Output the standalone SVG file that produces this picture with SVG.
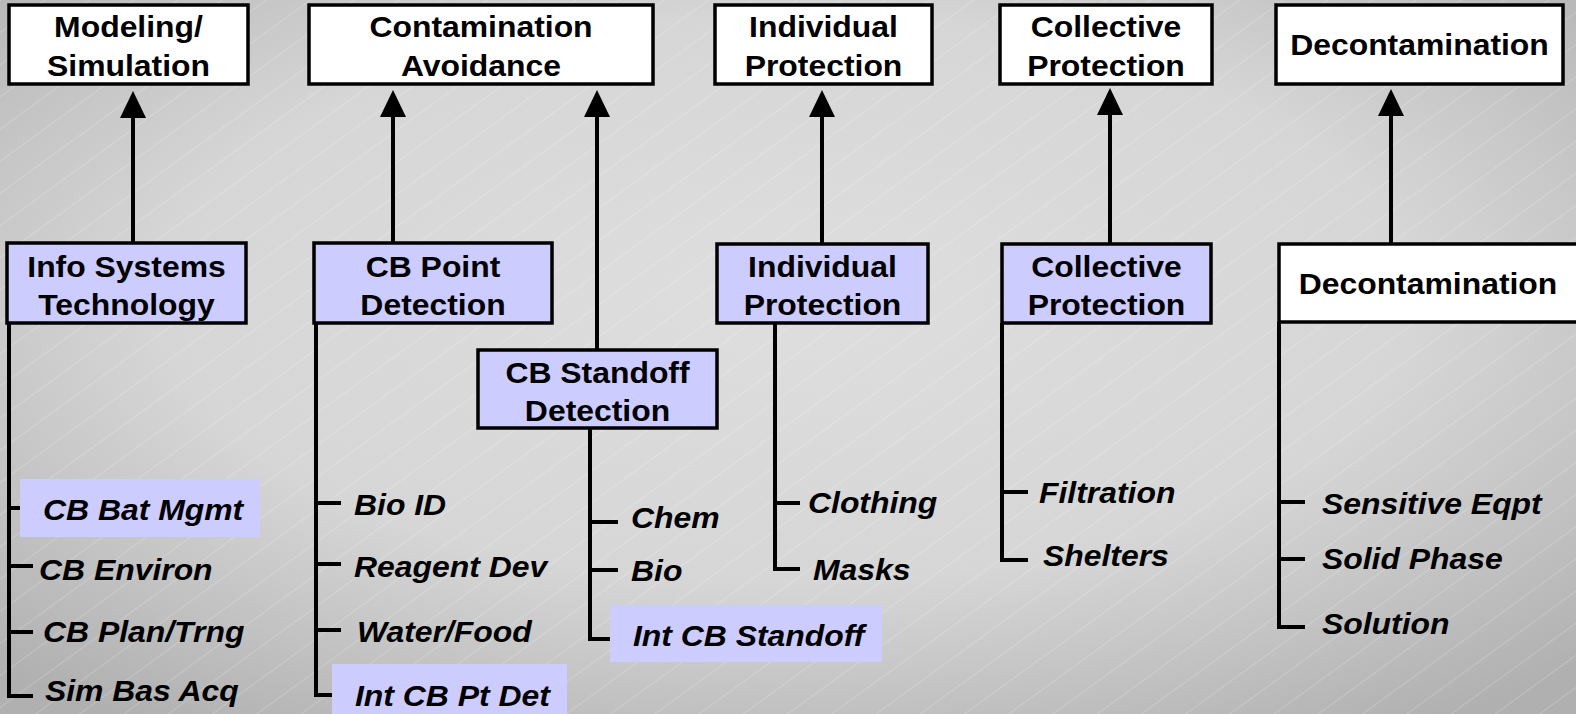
<svg xmlns="http://www.w3.org/2000/svg" width="1576" height="714" viewBox="0 0 1576 714">
<style>
.box{fill:#ffffff;stroke:#000;stroke-width:3.5}
.hbox{fill:#ccccff;stroke:#000;stroke-width:3.5}
.hl{fill:#ccccff;stroke:none}
.h{font-family:"Liberation Sans",Arial,sans-serif;font-weight:bold;font-size:29px;fill:#000;text-anchor:middle}
.l{font-family:"Liberation Sans",Arial,sans-serif;font-weight:bold;font-style:italic;font-size:29px;fill:#000}
.ln{fill:none;stroke:#000;stroke-width:4;stroke-linejoin:miter;stroke-linecap:butt}
.ar{fill:none;stroke:#000;stroke-width:4;marker-end:url(#ah)}
</style>
<defs>
<radialGradient id="bg" cx="50%" cy="42%" r="72%">
<stop offset="0" stop-color="#dedede"/>
<stop offset="0.55" stop-color="#d6d6d6"/>
<stop offset="1" stop-color="#b0b0b0"/>
</radialGradient>
<pattern id="stripes" patternUnits="userSpaceOnUse" width="400" height="26" patternTransform="rotate(-36)">
<line x1="0" y1="0.5" x2="400" y2="0.5" stroke="#ffffff" stroke-opacity="0.2" stroke-width="1"/>
</pattern>
<marker id="ah" markerUnits="userSpaceOnUse" viewBox="0 0 27 26" refX="17" refY="13" markerWidth="27" markerHeight="26" orient="auto">
<path d="M0,0 L27,13 L0,26 Z" fill="#000"/>
</marker>
</defs>
<rect x="0" y="0" width="1576" height="714" fill="url(#bg)"/>
<rect x="0" y="0" width="1576" height="714" fill="url(#stripes)"/>

<g id="connectors">
<line class="ar" x1="133" y1="243" x2="133" y2="101"/>
<line class="ar" x1="393" y1="243" x2="393" y2="100"/>
<line class="ar" x1="597" y1="350" x2="597" y2="100"/>
<line class="ar" x1="822" y1="244" x2="822" y2="100"/>
<line class="ar" x1="1110" y1="244" x2="1110" y2="98"/>
<line class="ar" x1="1391" y1="244" x2="1391" y2="99"/>
<path class="ln" d="M9,323 V696 H33 M9,508 H22 M9,566 H33 M9,632 H33"/>
<path class="ln" d="M316,323 V695 H334 M316,503 H341 M316,564 H341 M316,630 H341"/>
<path class="ln" d="M590,428 V639 H612 M590,522 H618 M590,570 H618"/>
<path class="ln" d="M775,323 V569 H800 M775,503 H800"/>
<path class="ln" d="M1002,323 V560 H1028 M1002,492 H1028"/>
<path class="ln" d="M1279,322 V627 H1305 M1279,502 H1305 M1279,559 H1305"/>
</g>

<g id="modeling-simulation">
<rect class="box" x="9" y="5" width="239" height="79"/>
<text class="h" transform="translate(128.5,37) scale(1.1,1)">Modeling/</text>
<text class="h" transform="translate(128.5,76) scale(1.1,1)">Simulation</text>
</g>
<g id="contamination-avoidance">
<rect class="box" x="309" y="5" width="344" height="79"/>
<text class="h" transform="translate(481,37) scale(1.1,1)">Contamination</text>
<text class="h" transform="translate(481,76) scale(1.1,1)">Avoidance</text>
</g>
<g id="individual-protection-top">
<rect class="box" x="715" y="5" width="217" height="79"/>
<text class="h" transform="translate(823.5,37) scale(1.1,1)">Individual</text>
<text class="h" transform="translate(823.5,76) scale(1.1,1)">Protection</text>
</g>
<g id="collective-protection-top">
<rect class="box" x="1000" y="5" width="212" height="79"/>
<text class="h" transform="translate(1106,37) scale(1.1,1)">Collective</text>
<text class="h" transform="translate(1106,76) scale(1.1,1)">Protection</text>
</g>
<g id="decontamination-top">
<rect class="box" x="1276" y="5" width="287" height="79"/>
<text class="h" transform="translate(1419.5,55) scale(1.1,1)">Decontamination</text>
</g>

<g id="info-systems-technology">
<rect class="hbox" x="7" y="243" width="239" height="80"/>
<text class="h" transform="translate(126.5,277) scale(1.1,1)">Info Systems</text>
<text class="h" transform="translate(126.5,315) scale(1.1,1)">Technology</text>
</g>
<g id="cb-point-detection">
<rect class="hbox" x="314" y="243" width="238" height="80"/>
<text class="h" transform="translate(433,277) scale(1.1,1)">CB Point</text>
<text class="h" transform="translate(433,315) scale(1.1,1)">Detection</text>
</g>
<g id="cb-standoff-detection">
<rect class="hbox" x="478" y="350" width="239" height="78"/>
<text class="h" transform="translate(597.5,383) scale(1.1,1)">CB Standoff</text>
<text class="h" transform="translate(597.5,421) scale(1.1,1)">Detection</text>
</g>
<g id="individual-protection">
<rect class="hbox" x="717" y="244" width="211" height="79"/>
<text class="h" transform="translate(822.5,277) scale(1.1,1)">Individual</text>
<text class="h" transform="translate(822.5,315) scale(1.1,1)">Protection</text>
</g>
<g id="collective-protection">
<rect class="hbox" x="1002" y="244" width="209" height="79"/>
<text class="h" transform="translate(1106.5,277) scale(1.1,1)">Collective</text>
<text class="h" transform="translate(1106.5,315) scale(1.1,1)">Protection</text>
</g>
<g id="decontamination">
<rect class="box" x="1279" y="244" width="300" height="78"/>
<text class="h" transform="translate(1428,294) scale(1.1,1)">Decontamination</text>
</g>

<g id="info-items">
<rect class="hl" x="20" y="479" width="240" height="58"/>
<text class="l" transform="translate(43,520) scale(1.1,1)">CB Bat Mgmt</text>
<text class="l" transform="translate(39,580) scale(1.1,1)">CB Environ</text>
<text class="l" transform="translate(43,642) scale(1.1,1)">CB Plan/Trng</text>
<text class="l" transform="translate(45,701) scale(1.1,1)">Sim Bas Acq</text>
</g>
<g id="point-items">
<rect class="hl" x="332" y="664" width="235" height="50"/>
<text class="l" transform="translate(354,515) scale(1.1,1)">Bio ID</text>
<text class="l" transform="translate(354,577) scale(1.1,1)">Reagent Dev</text>
<text class="l" transform="translate(357,642) scale(1.1,1)">Water/Food</text>
<text class="l" transform="translate(355,706) scale(1.1,1)">Int CB Pt Det</text>
</g>
<g id="standoff-items">
<rect class="hl" x="610" y="605" width="272" height="57"/>
<text class="l" transform="translate(631,528) scale(1.1,1)">Chem</text>
<text class="l" transform="translate(631,581) scale(1.1,1)">Bio</text>
<text class="l" transform="translate(633,646) scale(1.1,1)">Int CB Standoff</text>
</g>
<g id="individual-items">
<text class="l" transform="translate(808,513) scale(1.1,1)">Clothing</text>
<text class="l" transform="translate(813,580) scale(1.1,1)">Masks</text>
</g>
<g id="collective-items">
<text class="l" transform="translate(1039,503) scale(1.1,1)">Filtration</text>
<text class="l" transform="translate(1043,566) scale(1.1,1)">Shelters</text>
</g>
<g id="decon-items">
<text class="l" transform="translate(1322,514) scale(1.1,1)">Sensitive Eqpt</text>
<text class="l" transform="translate(1322,569) scale(1.1,1)">Solid Phase</text>
<text class="l" transform="translate(1322,634) scale(1.1,1)">Solution</text>
</g>
</svg>
